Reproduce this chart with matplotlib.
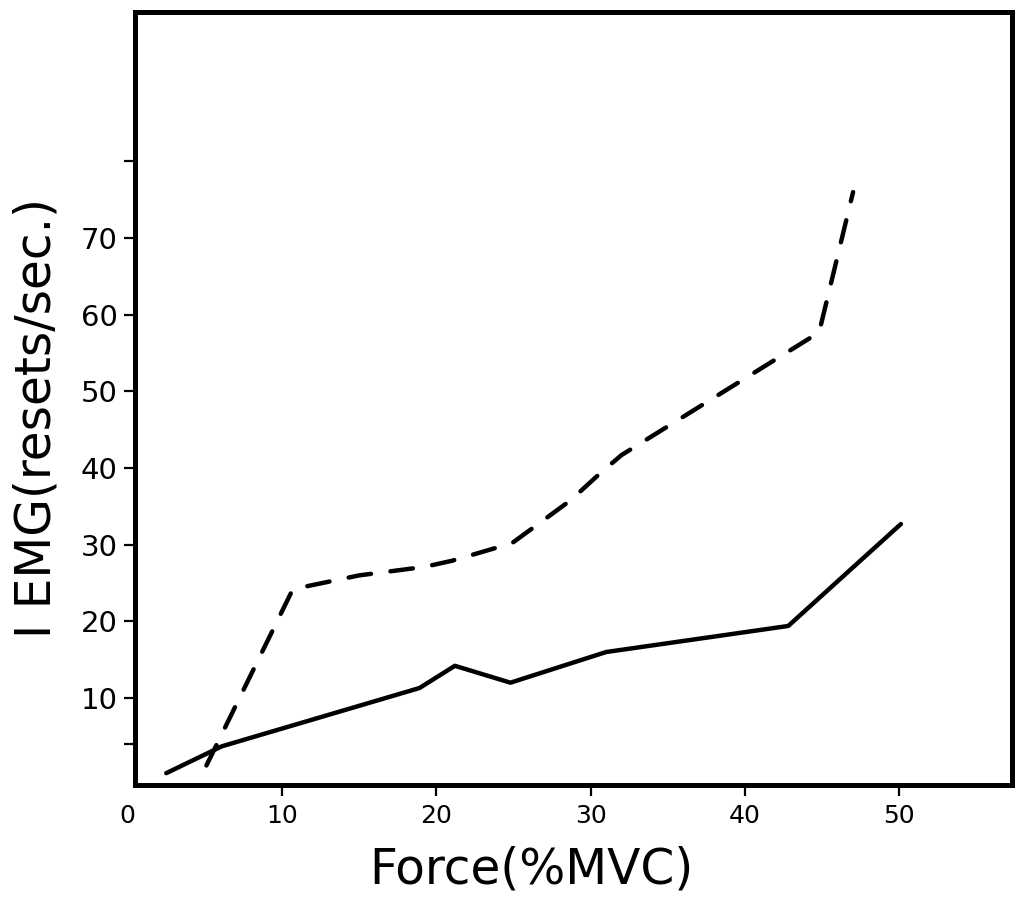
import matplotlib
matplotlib.use("Agg")
import matplotlib.pyplot as plt

# solid curve
force_solid = [2.5, 6.1, 18.9, 21.2, 24.8, 31.0, 42.8, 50.1]
iemg_solid = [0.2, 3.7, 11.3, 14.2, 12.0, 16.0, 19.4, 32.7]

# dashed curve
force_dash = [5.1, 10.7, 15.0, 19.2, 21.0, 24.9, 28.7, 30.6, 32.0, 44.8, 47.0]
iemg_dash = [1.2, 24.2, 26.0, 27.1, 27.9, 30.2, 35.8, 39.3, 41.7, 57.7, 76.0]

xticks = [0, 10, 20, 30, 40, 50]
yticks = [4, 10, 20, 30, 40, 50, 60, 70, 80]
ylabels = ["", "10", "20", "30", "40", "50", "60", "70", ""]

plt.rcParams["font.family"] = ["DejaVu Sans"]

fig = plt.figure(figsize=(10.17, 9.02), dpi=100)
ax = fig.add_axes([0.1256, 0.1297, 0.8695, 0.857])

ax.plot(force_solid, iemg_solid, color="black", lw=3.2, solid_capstyle="round",
        solid_joinstyle="round")
ax.plot(force_dash, iemg_dash, color="black", lw=3.2, dashes=(5.1, 4.4),
        dash_capstyle="round", dash_joinstyle="round")

x_left, x_right = 0.47, 57.3
ax.set_xlim(0, x_right)
ax.set_ylim(-1.35, 99.5)

for s in ax.spines.values():
    s.set_linewidth(3.6)
    s.set_capstyle("projecting")
ax.spines["left"].set_position(("data", x_left))
ax.spines["bottom"].set_bounds(x_left, x_right)
ax.spines["top"].set_bounds(x_left, x_right)

ax.set_xticks(xticks)
ax.set_xticklabels([str(t) for t in xticks])
ax.set_yticks(yticks)
ax.set_yticklabels(ylabels)
ax.tick_params(axis="x", direction="out", length=8, width=1.6, pad=5.5, labelsize=18)
ax.tick_params(axis="y", direction="out", length=8, width=1.6, pad=4.3, labelsize=21)
ax.xaxis.get_major_ticks()[0].tick1line.set_visible(False)

fig.text(0.0354, 0.5366, "I EMG(resets/sec.)", rotation=90, ha="center", va="center",
         fontsize=35)
fig.text(0.5226, 0.0355, "Force(%MVC)", ha="center", va="center", fontsize=35)

fig.savefig("out.png", dpi=100)
